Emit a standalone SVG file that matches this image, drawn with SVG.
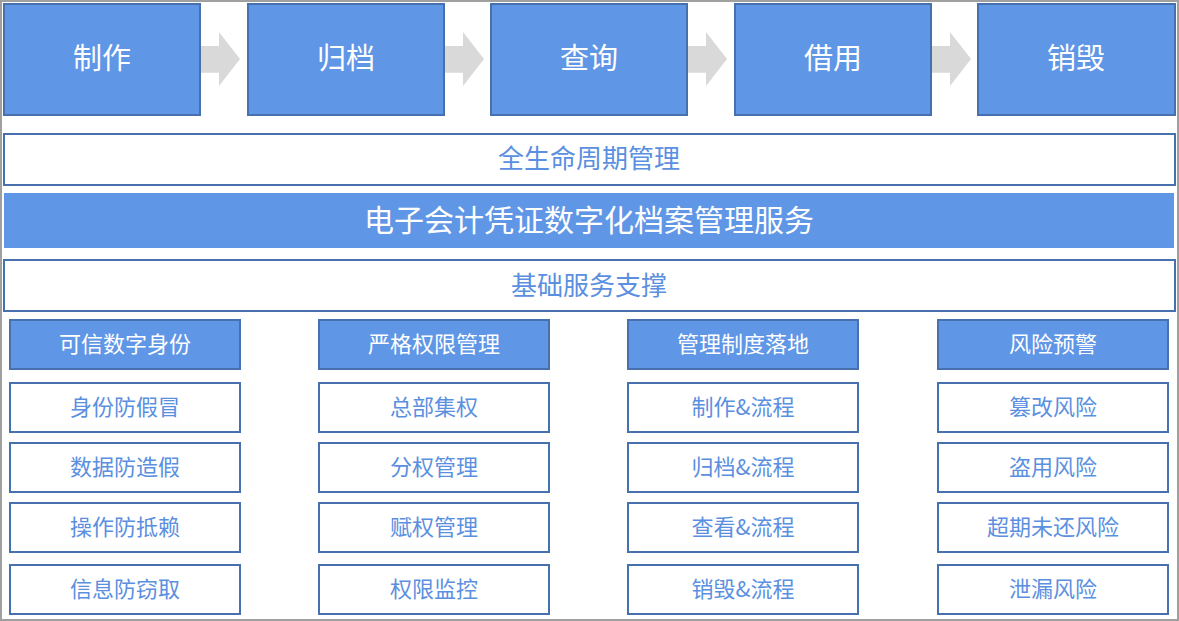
<svg xmlns="http://www.w3.org/2000/svg" xmlns:xlink="http://www.w3.org/1999/xlink" width="1179" height="621" viewBox="0 0 1179 621">
<style>
  text { font-family: "Noto Sans CJK SC", "Noto Sans", sans-serif; text-anchor: middle; dominant-baseline: central; }
  .blue { fill: #5f96e6; stroke: #4670ae; stroke-width: 2; }
  .white { fill: #ffffff; stroke: #4670ae; stroke-width: 2; }
  .band { fill: #5f96e6; }
  .wt { fill: #ffffff; }
  .bt { fill: #5b8fe0; }
  .big { font-size: 29px; }
  .mid { font-size: 26px; }
  .title { font-size: 30px; }
  .sm { font-size: 22px; }
  .arrow { fill: #d9d9d9; }
</style>
<defs>
  <polygon id="arr" points="0,46 19,46 19,32 40,59 19,86 19,72.7 0,72.7"/>
</defs>
<rect x="0" y="0" width="1179" height="621" fill="#ffffff"/>
<rect x="1" y="1" width="1177" height="619" fill="none" stroke="#a0a0a0" stroke-width="2"/>

<g id="connectors">
  <use xlink:href="#arr" class="arrow" x="200" y="0"/>
  <use xlink:href="#arr" class="arrow" x="444" y="0"/>
  <use xlink:href="#arr" class="arrow" x="687" y="0"/>
  <use xlink:href="#arr" class="arrow" x="931" y="0"/>
</g>

<g id="step-make"><rect class="blue" x="4" y="4" width="196" height="111"/><text class="wt big" x="102" y="56">制作</text></g>
<g id="step-archive"><rect class="blue" x="248" y="4" width="196" height="111"/><text class="wt big" x="346" y="56">归档</text></g>
<g id="step-query"><rect class="blue" x="491" y="4" width="196" height="111"/><text class="wt big" x="589" y="56">查询</text></g>
<g id="step-borrow"><rect class="blue" x="735" y="4" width="196" height="111"/><text class="wt big" x="833" y="56">借用</text></g>
<g id="step-destroy"><rect class="blue" x="978" y="4" width="197" height="111"/><text class="wt big" x="1076" y="56">销毁</text></g>

<g id="lifecycle"><rect class="white" x="4" y="134" width="1171" height="51"/><text class="bt mid" x="589" y="156">全生命周期管理</text></g>
<g id="service"><rect class="band" x="4" y="193" width="1170" height="55"/><text class="wt title" x="589" y="218">电子会计凭证数字化档案管理服务</text></g>
<g id="base"><rect class="white" x="4" y="260" width="1171" height="51"/><text class="bt mid" x="589" y="283">基础服务支撑</text></g>

<g id="col1">
  <g id="h1"><rect class="blue" x="10" y="320" width="230" height="49"/><text class="wt sm" x="125" y="342">可信数字身份</text></g>
  <g id="c1-1"><rect class="white" x="10" y="383" width="230" height="49"/><text class="bt sm" x="125" y="405">身份防假冒</text></g>
  <g id="c1-2"><rect class="white" x="10" y="443" width="230" height="49"/><text class="bt sm" x="125" y="465">数据防造假</text></g>
  <g id="c1-3"><rect class="white" x="10" y="503" width="230" height="49"/><text class="bt sm" x="125" y="525">操作防抵赖</text></g>
  <g id="c1-4"><rect class="white" x="10" y="565" width="230" height="49"/><text class="bt sm" x="125" y="587">信息防窃取</text></g>
</g>
<g id="col2">
  <g id="h2"><rect class="blue" x="319" y="320" width="230" height="49"/><text class="wt sm" x="434" y="342">严格权限管理</text></g>
  <g id="c2-1"><rect class="white" x="319" y="383" width="230" height="49"/><text class="bt sm" x="434" y="405">总部集权</text></g>
  <g id="c2-2"><rect class="white" x="319" y="443" width="230" height="49"/><text class="bt sm" x="434" y="465">分权管理</text></g>
  <g id="c2-3"><rect class="white" x="319" y="503" width="230" height="49"/><text class="bt sm" x="434" y="525">赋权管理</text></g>
  <g id="c2-4"><rect class="white" x="319" y="565" width="230" height="49"/><text class="bt sm" x="434" y="587">权限监控</text></g>
</g>
<g id="col3">
  <g id="h3"><rect class="blue" x="628" y="320" width="230" height="49"/><text class="wt sm" x="743" y="342">管理制度落地</text></g>
  <g id="c3-1"><rect class="white" x="628" y="383" width="230" height="49"/><text class="bt sm" x="743" y="405">制作&amp;流程</text></g>
  <g id="c3-2"><rect class="white" x="628" y="443" width="230" height="49"/><text class="bt sm" x="743" y="465">归档&amp;流程</text></g>
  <g id="c3-3"><rect class="white" x="628" y="503" width="230" height="49"/><text class="bt sm" x="743" y="525">查看&amp;流程</text></g>
  <g id="c3-4"><rect class="white" x="628" y="565" width="230" height="49"/><text class="bt sm" x="743" y="587">销毁&amp;流程</text></g>
</g>
<g id="col4">
  <g id="h4"><rect class="blue" x="938" y="320" width="230" height="49"/><text class="wt sm" x="1053" y="342">风险预警</text></g>
  <g id="c4-1"><rect class="white" x="938" y="383" width="230" height="49"/><text class="bt sm" x="1053" y="405">篡改风险</text></g>
  <g id="c4-2"><rect class="white" x="938" y="443" width="230" height="49"/><text class="bt sm" x="1053" y="465">盗用风险</text></g>
  <g id="c4-3"><rect class="white" x="938" y="503" width="230" height="49"/><text class="bt sm" x="1053" y="525">超期未还风险</text></g>
  <g id="c4-4"><rect class="white" x="938" y="565" width="230" height="49"/><text class="bt sm" x="1053" y="587">泄漏风险</text></g>
</g>
</svg>
